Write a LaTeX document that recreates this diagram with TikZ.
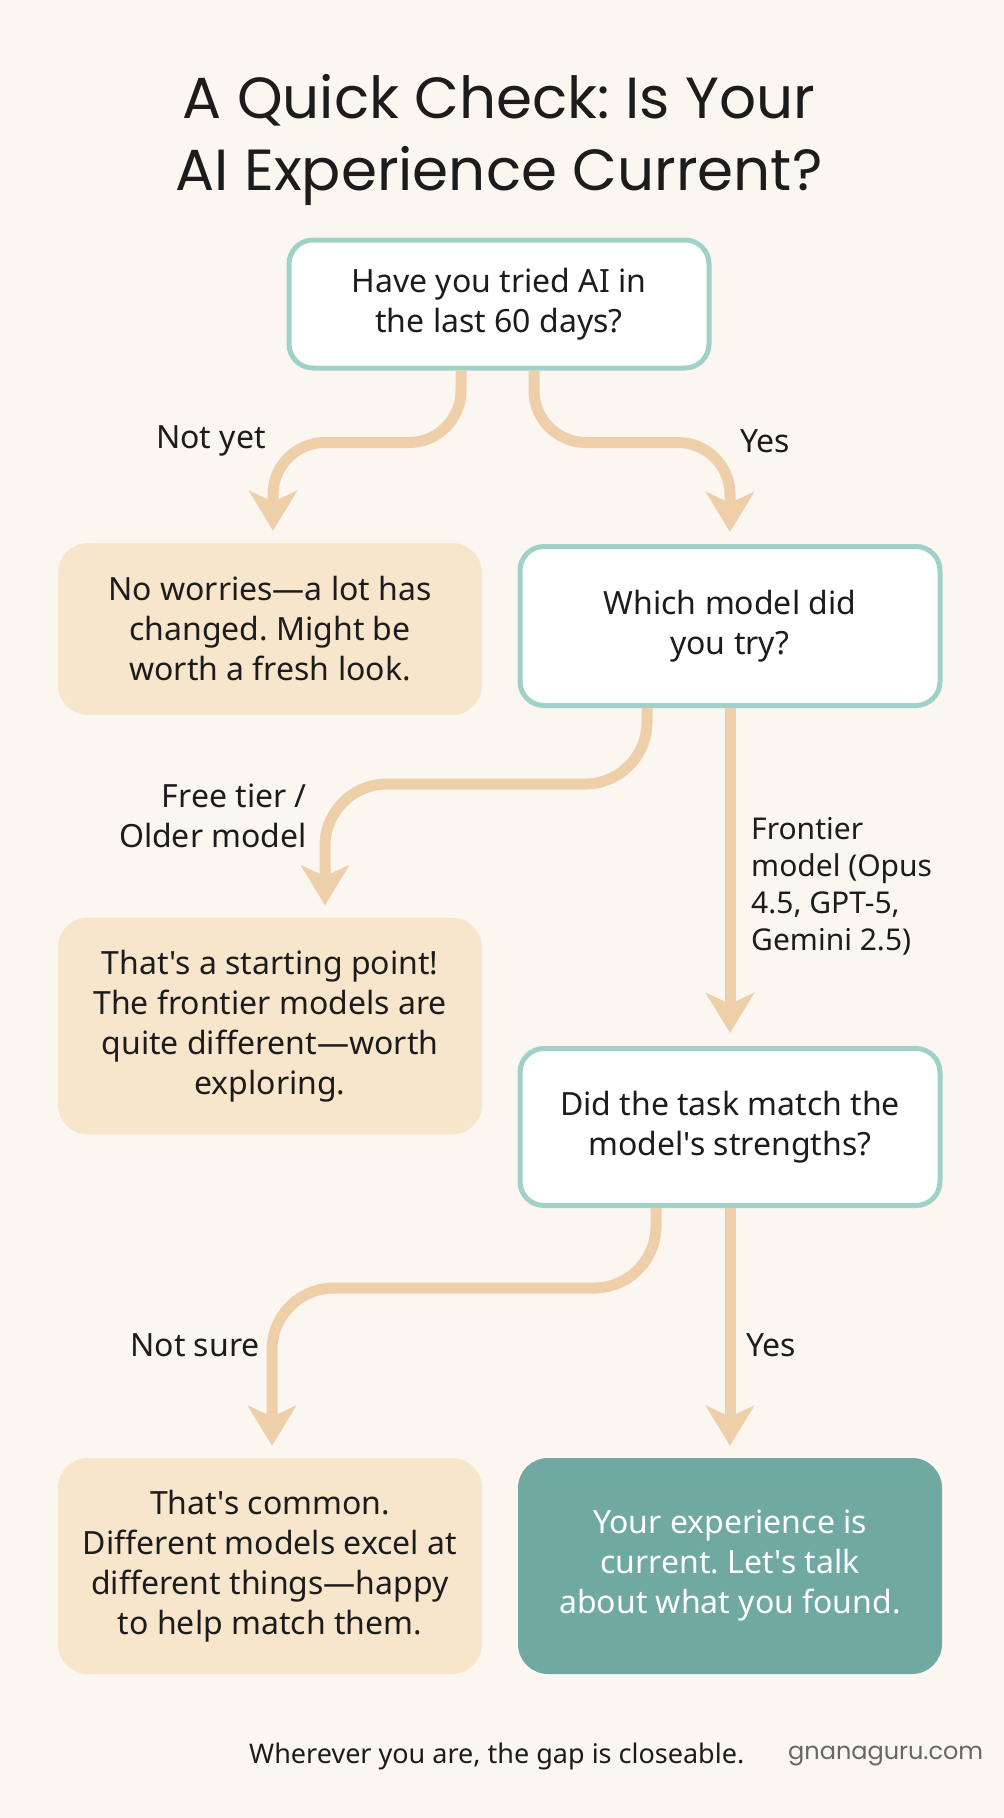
\documentclass[tikz,border=0pt]{standalone}
\usepackage{fontspec}
\setmainfont{Noto Sans}
\newfontfamily\bodyfont{Noto Sans}
\newfontfamily\titlefont{Poppins}
\usetikzlibrary{arrows.meta}
\frenchspacing
\definecolor{bg}{HTML}{FBF7F0}
\definecolor{peach}{HTML}{F8E6CC}
\definecolor{tealline}{HTML}{A0D1C9}
\definecolor{tealfill}{HTML}{6FA9A1}
\definecolor{arrowc}{HTML}{EFCFAA}
\definecolor{ink}{HTML}{1C1C1C}
\definecolor{urlgray}{HTML}{666666}
\begin{document}
\begin{tikzpicture}[x=1pt,y=-1pt,
  bodyfs/.style={font=\bodyfont\frenchspacing\fontsize{32}{40}\selectfont},
  qbox/.style={draw=tealline, line width=5pt, fill=white, rounded corners=24pt,
    minimum width=420pt, align=center, text=ink, bodyfs},
  abox/.style={fill=peach, rounded corners=30pt, minimum width=424pt,
    align=center, text=ink, bodyfs},
  gbox/.style={fill=tealfill, rounded corners=30pt, minimum width=424pt,
    align=center, text=white, bodyfs},
  conn/.style={draw=arrowc, line width=11pt, rounded corners=52pt,
    -{Stealth[length=40pt,width=48pt,inset=11pt]}, shorten >=12pt},
  lbl/.style={text=ink, bodyfs, inner sep=0pt}
]
\fill[bg] (0,0) rectangle (1004,1818);
\useasboundingbox (0,0) rectangle (1004,1818);

\node[text=ink, align=center, font=\titlefont\fontsize{58}{72}\selectfont] (title) at (499,140)
  {A Quick Check: Is Your\\AI Experience Current?};

\node[qbox, minimum height=128pt] (q1) at (499,304) {Have you tried AI in\\the last 60 days?};
\node[abox, minimum height=172pt] (a1) at (270,629) {No worries—a lot has\\changed. Might be\\worth a fresh look.};
\node[qbox, minimum height=159pt] (q2) at (730,626) {Which model did\\you try?};
\node[abox, minimum height=217pt] (a2) at (270,1026) {That's a starting point!\\The frontier models are\\quite different—worth\\exploring.};
\node[qbox, minimum height=157pt] (q3) at (730,1127) {Did the task match the\\model's strengths?};
\node[abox, minimum height=216pt] (a3) at (270,1566) {That's common.\\Different models excel at\\different things—happy\\to help match them.};
\node[gbox, minimum height=216pt] (g) at (730,1566) {Your experience is\\current. Let's talk\\about what you found.};

\draw[conn] ([xshift=-38pt]q1.south) -- ++(0,72) -| ([xshift=3pt]a1.north);
\draw[conn] ([xshift=35pt]q1.south) -- ++(0,72) -| (q2.north);
\draw[conn, rounded corners=62pt] ([xshift=-83pt]q2.south) -- ++(0,76) -| ([xshift=55pt]a2.north);
\draw[conn, shorten >=13pt] (q2.south) -- (q3.north);
\draw[conn, rounded corners=62pt] ([xshift=-74pt]q3.south) -- ++(0,80) -| ([xshift=2pt]a3.north);
\draw[conn] (q3.south) -- (g.north);

\node[lbl] (l1) at (211,441) {Not yet};
\node[lbl] (l2) at (765,441) {Yes};
\node[lbl, align=right, anchor=east] (l3) at (307,816) {Free tier /\\Older model};
\node[lbl, align=left, anchor=west, font=\bodyfont\fontsize{30}{37}\selectfont] (l4) at (751,886) {Frontier\\model (Opus\\4.5, GPT-5,\\Gemini 2.5)};
\node[lbl] (l5) at (195,1345) {Not sure};
\node[lbl] (l6) at (771,1345) {Yes};

\node[text=ink, anchor=west, inner sep=0pt, font=\bodyfont\fontsize{27}{32}\selectfont] (foot) at (249,1756) {Wherever you are, the gap is closeable.};
\node[text=urlgray, anchor=west, inner sep=0pt, font=\titlefont\fontsize{24}{30}\selectfont] (url) at (788,1756) {gnanaguru.com};
\end{tikzpicture}
\end{document}
